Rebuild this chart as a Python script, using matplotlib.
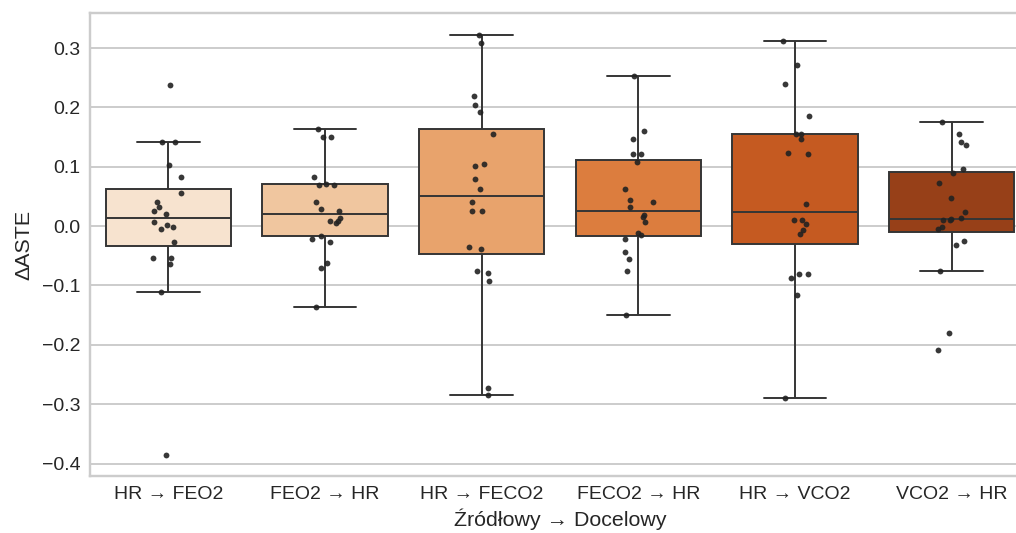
import numpy as np
import pandas as pd
import matplotlib
matplotlib.use("Agg")
import matplotlib.pyplot as plt
import seaborn as sns

# kategorie (kierunek transferu)
pairs = ["HR → FEO2", "FEO2 → HR", "HR → FECO2", "FECO2 → HR", "HR → VCO2", "VCO2 → HR"]

# zmiana ASTE dla kazdego przebiegu
hr_feo2 = [0.238, 0.141, 0.141, 0.103, 0.082, 0.055, 0.040, 0.033, 0.025, 0.021,
           0.007, 0.002, -0.002, -0.005, -0.027, -0.053, -0.053, -0.064, -0.111, -0.386]
feo2_hr = [0.163, 0.150, 0.150, 0.082, 0.071, 0.070, 0.069, 0.041, 0.029, 0.026,
           0.014, 0.008, 0.008, 0.006, -0.016, -0.022, -0.027, -0.063, -0.070, -0.137]
hr_feco2 = [0.322, 0.308, 0.219, 0.204, 0.192, 0.155, 0.104, 0.102, 0.079, 0.062,
            0.041, 0.026, 0.026, -0.035, -0.038, -0.075, -0.079, -0.093, -0.273, -0.284]
feco2_hr = [0.253, 0.160, 0.146, 0.122, 0.122, 0.108, 0.062, 0.044, 0.040, 0.032,
            0.018, 0.016, 0.007, -0.011, -0.015, -0.021, -0.043, -0.055, -0.076, -0.149]
hr_vco2 = [0.311, 0.272, 0.240, 0.186, 0.155, 0.155, 0.146, 0.123, 0.122, 0.038,
           0.010, 0.010, 0.003, -0.007, -0.014, -0.081, -0.081, -0.087, -0.116, -0.290]
vco2_hr = [0.175, 0.155, 0.141, 0.136, 0.097, 0.090, 0.073, 0.047, 0.024, 0.013,
           0.012, 0.011, 0.010, -0.002, -0.005, -0.025, -0.032, -0.075, -0.180, -0.209]

values = [hr_feo2, feo2_hr, hr_feco2, feco2_hr, hr_vco2, vco2_hr]

df = pd.DataFrame({
    "pair": np.repeat(pairs, [len(v) for v in values]),
    "delta": np.concatenate(values),
})

sns.set_theme(style="whitegrid")
plt.rcParams["font.family"] = ["Liberation Sans", "DejaVu Sans"]

np.random.seed(3)

dpi = 140
fig = plt.figure(figsize=(1016 / dpi, 533 / dpi), dpi=dpi)
ax = fig.add_axes([90 / 1016, 1 - 476 / 533, 940 / 1016, 463 / 533])

sns.boxplot(data=df, x="pair", y="delta", hue="pair", order=pairs,
            palette="Oranges", showfliers=False, legend=False, ax=ax)
sns.stripplot(data=df, x="pair", y="delta", order=pairs, color="#222222",
              size=3, alpha=0.9, jitter=True, ax=ax)

ax.set_ylim(-0.421, 0.359)
ax.tick_params(axis="both", labelsize=10, length=0, pad=5)
ax.set_xlabel("Źródłowy → Docelowy", fontsize=11, labelpad=3)
ax.set_ylabel("ΔASTE", fontsize=11, labelpad=4)

fig.savefig("out.png", dpi=dpi)
